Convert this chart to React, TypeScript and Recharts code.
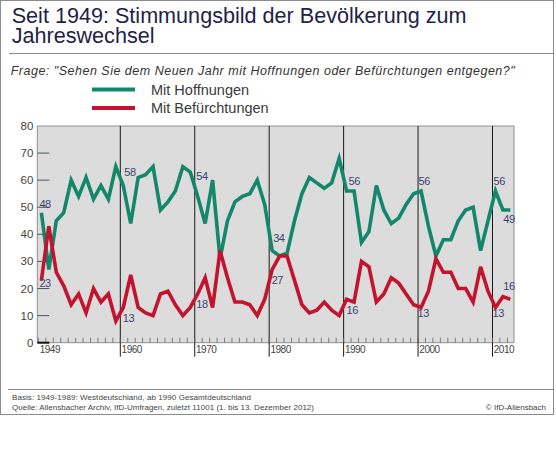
import { LineChart, Line, XAxis, YAxis, CartesianGrid, ReferenceLine } from "recharts";

const years = [
  1949, 1950, 1951, 1952, 1953, 1954, 1955, 1956, 1957, 1958,
  1959, 1960, 1961, 1962, 1963, 1964, 1965, 1966, 1967, 1968,
  1969, 1970, 1971, 1972, 1973, 1974, 1975, 1976, 1977, 1978,
  1979, 1980, 1981, 1982, 1983, 1984, 1985, 1986, 1987, 1988,
  1989, 1990, 1991, 1992, 1993, 1994, 1995, 1996, 1997, 1998,
  1999, 2000, 2001, 2002, 2003, 2004, 2005, 2006, 2007, 2008,
  2009, 2010, 2011, 2012,
];

// "Mit Hoffnungen", percent
const hoffnungen = [
  48, 27, 45, 48, 60, 54, 61, 53, 58, 53,
  65, 58, 44, 61, 62, 65, 49, 52, 56, 65,
  63, 54, 44, 60, 31, 45, 52, 54, 55, 60,
  51, 34, 32, 33, 45, 55, 61, 59, 57, 59,
  68, 56, 56, 37, 41, 58, 49, 44, 46, 51,
  55, 56, 43, 32, 38, 38, 45, 49, 50, 34,
  45, 56, 49, 49,
];

// "Mit Befürchtungen", percent
const befuerchtungen = [
  23, 43, 26, 21, 14, 18, 11, 20, 15, 18,
  8, 13, 25, 13, 11, 10, 18, 19, 14, 10,
  13, 18, 24, 13, 34, 24, 15, 15, 14, 10,
  16, 27, 32, 32, 23, 14, 11, 12, 15, 12,
  10, 16, 15, 30, 28, 15, 18, 24, 22, 18,
  14, 13, 19, 31, 26, 26, 20, 20, 15, 28,
  19, 13, 17, 16,
];

const decades = [1960, 1970, 1980, 1990, 2000, 2010];
const yTicks = [0, 10, 20, 30, 40, 50, 60, 70, 80];
const labelYears = [1949, 1960, 1970, 1980, 1990, 2000, 2010, 2012];

const FONT = '"Liberation Sans", Arial, sans-serif';
const GREEN = "#13876b";
const RED = "#c3132e";
const LABEL_COLOR = "#3f4372";

// survey is taken in December, so each point sits a bit inside its year
const rows = years.map((year, i) => ({
  year,
  x: year + 0.4,
  hope: hoffnungen[i],
  fear: befuerchtungen[i],
}));

// text offsets of the value labels relative to their point
const labelOffsets: Record<string, Record<number, [number, number]>> = {
  hope: {
    1949: [-2, -4.5], 1960: [1, -9.5], 1970: [-1.5, -16.5], 1980: [1, -9],
    1990: [2, -6], 2000: [-2.5, -6], 2010: [-2, -6], 2012: [-7, 13.5],
  },
  fear: {
    1949: [-2, 6.8], 1960: [-0.5, 14.5], 1970: [-1.5, 14.5], 1980: [-0.5, 14],
    1990: [0, 14.5], 2000: [-3.5, 10], 2010: [-3, 10], 2012: [-7, -9.3],
  },
};

const valueLabel = (key: string) => (props: any) => {
  const { x, y, value, index } = props;
  const year = rows[index]?.year;
  if (!labelYears.includes(year)) return null;
  const [dx, dy] = labelOffsets[key][year];
  return (
    <text x={x + dx} y={y + dy} fontSize={11} fontFamily={FONT} fill={LABEL_COLOR} letterSpacing={-0.4}>
      {value}
    </text>
  );
};

function YearTick(props: any) {
  const { x, y, payload } = props;
  const year = payload.value;
  const isDecade = decades.includes(year);
  return (
    <g>
      <line x1={x} x2={x} y1={y - 5} y2={y} stroke="#666" strokeWidth={0.8} />
      {isDecade && <line x1={x} x2={x} y1={y} y2={y + 14} stroke="#1a1a1a" strokeWidth={1} />}
      {(isDecade || year === 1949) && (
        <text x={x + 1.3} y={y + 10.5} fontSize={10} fontFamily={FONT} fill="#444" letterSpacing={-0.5}>
          {year}
        </text>
      )}
    </g>
  );
}

function ValueTick(props: any) {
  const { x, y, payload } = props;
  const v = payload.value;
  return (
    <g>
      {v > 0 && v < 80 && <line x1={x} x2={x + 12} y1={y} y2={y} stroke="#555" strokeWidth={1} />}
      {v === 0 && <line x1={x} x2={x + 12} y1={y} y2={y} stroke="#111" strokeWidth={2} />}
      <text x={x - 4} y={y + 4} textAnchor="end" fontSize={11.5} fontFamily={FONT} fill="#444">
        {v}
      </text>
    </g>
  );
}

const series = [
  { key: "hope", name: "Mit Hoffnungen", color: GREEN },
  { key: "fear", name: "Mit Befürchtungen", color: RED },
];

function Frame() {
  return (
    <svg width={556} height={472} style={{ position: "absolute", left: 0, top: 0 }}>
      <rect x={0} y={0} width={556} height={472} fill="#fff" />
      <rect x={0.5} y={0.5} width={553} height={414} fill="none" stroke="#8c8c8c" strokeWidth={1} />
      <text x={11.7} y={22.7} fontSize={21.6} fontFamily={FONT} fill="#1f2247">
        Seit 1949: Stimmungsbild der Bevölkerung zum
      </text>
      <text x={11.7} y={43.3} fontSize={21.6} fontFamily={FONT} fill="#1f2247">
        Jahreswechsel
      </text>
      <line x1={9} x2={553} y1={53.5} y2={53.5} stroke="#8c8c8c" strokeWidth={1} />
      <text x={10.7} y={75} fontSize={12.5} fontStyle="italic" fontFamily={FONT} fill="#333"
        textLength={504} lengthAdjust="spacing">
        Frage: "Sehen Sie dem Neuen Jahr mit Hoffnungen oder Befürchtungen entgegen?"
      </text>
      {series.map((s, i) => (
        <g key={s.key}>
          <line x1={92} x2={135} y1={89.5 + i * 18.5} y2={89.5 + i * 18.5} stroke={s.color} strokeWidth={4} />
          <text x={151} y={94.5 + i * 18.5} fontSize={14.5} fontFamily={FONT} fill="#3a3a3a">
            {s.name}
          </text>
        </g>
      ))}
      <line x1={8} x2={553} y1={389.5} y2={389.5} stroke="#8c8c8c" strokeWidth={1} />
      <text x={12} y={399.5} fontSize={8} fontFamily={FONT} fill="#444" textLength={239} lengthAdjust="spacing">
        Basis: 1949-1989: Westdeutschland, ab 1990 Gesamtdeutschland
      </text>
      <text x={12} y={409.5} fontSize={8} fontFamily={FONT} fill="#444" textLength={302} lengthAdjust="spacing">
        Quelle: Allensbacher Archiv, IfD-Umfragen, zuletzt 11001 (1. bis 13. Dezember 2012)
      </text>
      <text x={546} y={409.5} textAnchor="end" fontSize={8} fontFamily={FONT} fill="#444">
        © IfD-Allensbach
      </text>
    </svg>
  );
}

export default function App() {
  return (
    <div style={{ position: "absolute", left: 0, top: 0, width: 556, height: 472 }}>
      <Frame />
      <div style={{ position: "absolute", left: 0, top: 0 }}>
        <LineChart
          width={556}
          height={472}
          data={rows}
          margin={{ top: 126, right: 42, bottom: 99.3, left: 0 }}
        >
          <CartesianGrid
            fill="#dcdcdc"
            stroke="#8f8f8f"
            horizontalCoordinatesGenerator={({ offset }: any) => [offset.top, offset.top + offset.height]}
            verticalCoordinatesGenerator={({ offset }: any) => [offset.left, offset.left + offset.width]}
          />
          <XAxis
            type="number"
            dataKey="x"
            domain={[1948.85, 2012.89]}
            ticks={years}
            interval={0}
            tick={<YearTick />}
            tickLine={false}
            axisLine={false}
            tickSize={0}
            tickMargin={0}
            height={30}
            allowDataOverflow
          />
          <YAxis
            domain={[0, 80]}
            ticks={yTicks}
            interval={0}
            tick={<ValueTick />}
            tickLine={false}
            axisLine={false}
            tickSize={0}
            tickMargin={0}
            width={37.3}
          />
          {decades.map((d) => (
            <ReferenceLine key={d} x={d} stroke="#1a1a1a" strokeWidth={1} />
          ))}
          {series.map((s) => (
            <Line
              key={s.key}
              type="linear"
              dataKey={s.key}
              name={s.name}
              stroke={s.color}
              strokeWidth={3.6}
              dot={false}
              isAnimationActive={false}
              label={valueLabel(s.key)}
            />
          ))}
        </LineChart>
      </div>
    </div>
  );
}
